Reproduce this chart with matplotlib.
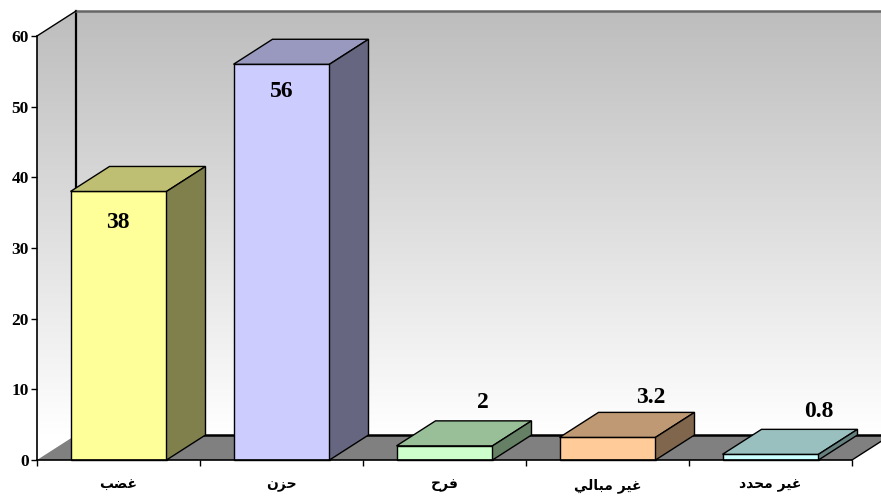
import numpy as np
import matplotlib
matplotlib.use('Agg')
import matplotlib.pyplot as plt
from matplotlib.colors import to_rgb, LinearSegmentedColormap
from matplotlib.patches import Polygon

categories = ['غضب', 'حزن', 'فرح', 'غير مبالي', 'غير محدد']
values = [38, 56, 2, 3.2, 0.8]
value_labels = ['38', '56', '2', '3.2', '0.8']
yticks = [0, 10, 20, 30, 40, 50, 60]
colors = ['#FFFF99', '#CCCCFF', '#CCFFCC', '#FFCC99', '#CCFFFF']

# pixel offsets of the value labels from the top centre of each bar front
label_offsets = [(-1, -31), (0, -27), (38, 43), (43, 40), (48, 43)]

# matplotlib does no arabic shaping, so map letters to their joined forms
# letter: (isolated, final, initial, medial)
forms = {
    'غ': '\uFECD\uFECE\uFECF\uFED0',
    'ض': '\uFEBD\uFEBE\uFEBF\uFEC0',
    'ب': '\uFE8F\uFE90\uFE91\uFE92',
    'ح': '\uFEA1\uFEA2\uFEA3\uFEA4',
    'ن': '\uFEE5\uFEE6\uFEE7\uFEE8',
    'ف': '\uFED1\uFED2\uFED3\uFED4',
    'م': '\uFEE1\uFEE2\uFEE3\uFEE4',
    'ل': '\uFEDD\uFEDE\uFEDF\uFEE0',
    'ي': '\uFEF1\uFEF2\uFEF3\uFEF4',
    'ز': '\uFEAF\uFEB0\uFEAF\uFEB0',
    'ر': '\uFEAD\uFEAE\uFEAD\uFEAE',
    'د': '\uFEA9\uFEAA\uFEA9\uFEAA',
    'ا': '\uFE8D\uFE8E\uFE8D\uFE8E',
}
right_only = 'زردا'


def shape(word):
    out = []
    for i, ch in enumerate(word):
        if ch not in forms:
            out.append(ch)
            continue
        prev = word[i - 1] if i > 0 else ' '
        nxt = word[i + 1] if i + 1 < len(word) else ' '
        joins_prev = prev in forms and prev not in right_only
        joins_next = nxt in forms and ch not in right_only
        out.append(forms[ch][(2 if joins_next else 0) + (1 if joins_prev else 0)
                             if not (joins_next and joins_prev) else 3])
    return ''.join(reversed(out))


fig = plt.figure(figsize=(8.81, 4.98), dpi=100)
ax = fig.add_axes([37 / 881, 38 / 498, 815 / 881, 424 / 498])
ax.set_xlim(0, 5)
ax.set_ylim(0, 60)

# depth of the fake 3d box, 39x25 px, in data units
dx = 39 * 5 / 815
dy = 25 * 60 / 424
xmax = 5 + dx

# walls with the vertical grey gradient
cmap = LinearSegmentedColormap.from_list('wall', ['#FFFFFF', '#BDBDBD'])
grad = np.linspace(0, 1, 256).reshape(-1, 1)
img = ax.imshow(grad, cmap=cmap, origin='lower', aspect='auto', zorder=1,
                extent=(0, xmax, dy, 60 + dy))
wall = Polygon([(0, 0), (0, 60), (dx, 60 + dy), (xmax, 60 + dy), (xmax, dy), (dx, dy)],
               closed=True, transform=ax.transData, fc='none', ec='none')
ax.add_patch(wall)
img.set_clip_path(wall)
img.set_clip_box(fig.bbox)
ax.set_xlim(0, 5)
ax.set_ylim(0, 60)

# floor and box edges
ax.add_patch(Polygon([(0, 0), (5, 0), (xmax, dy), (dx, dy)], closed=True, fc='#808080',
                     ec='none', zorder=2, clip_on=False))
ax.plot([dx, xmax], [dy, dy], color='black', lw=1.8, zorder=2.5, clip_on=False)
ax.plot([dx, dx], [dy, 60 + dy], color='black', lw=1.6, zorder=2.5, clip_on=False)
ax.plot([dx, xmax], [60 + dy, 60 + dy], color='#666666', lw=1.8, zorder=2.5, clip_on=False)
ax.plot([0, dx], [60, 60 + dy], color='black', lw=1, zorder=2.5, clip_on=False)
ax.plot([5, xmax], [0, dy], color='black', lw=1, zorder=2.5, clip_on=False)

# bars
width = 96 * 5 / 815
for i, (val, col) in enumerate(zip(values, colors)):
    left = i + 0.5 - width / 2
    right = left + width
    rgb = np.array(to_rgb(col))
    kw = dict(closed=True, ec='black', lw=1, zorder=3 + i, clip_on=False)
    ax.add_patch(Polygon([(left, 0), (right, 0), (right, val), (left, val)], fc=rgb, **kw))
    ax.add_patch(Polygon([(left, val), (right, val), (right + dx, val + dy), (left + dx, val + dy)],
                         fc=rgb * 0.75, **kw))
    ax.add_patch(Polygon([(right, 0), (right + dx, dy), (right + dx, val + dy), (right, val)],
                         fc=rgb * 0.5, **kw))
    ax.annotate(value_labels[i], (i + 0.5, val), xytext=label_offsets[i], textcoords='offset pixels',
                ha='center', va='center', family='Liberation Serif', weight='bold',
                fontsize=17, color='black', zorder=20, annotation_clip=False)

for side in ['top', 'right']:
    ax.spines[side].set_visible(False)
for side in ['left', 'bottom']:
    ax.spines[side].set_linewidth(1.2)
    ax.spines[side].set_zorder(15)

ax.set_yticks(yticks)
ax.set_yticklabels([str(t) for t in yticks], family='Liberation Serif', weight='bold', fontsize=12.5)
ax.tick_params(axis='y', length=4.5, width=1, pad=1.5)

ax.set_xticks(range(6))
ax.set_xticklabels([''] * 6)
ax.tick_params(axis='x', length=4.5, width=1)
ax.set_xticks(np.arange(5) + 0.5, minor=True)
ax.set_xticklabels([shape(c) for c in categories], minor=True, family='DejaVu Sans',
                   weight='bold', fontsize=10)
ax.tick_params(axis='x', which='minor', length=0, pad=13)

fig.savefig('out.png', dpi=100)
